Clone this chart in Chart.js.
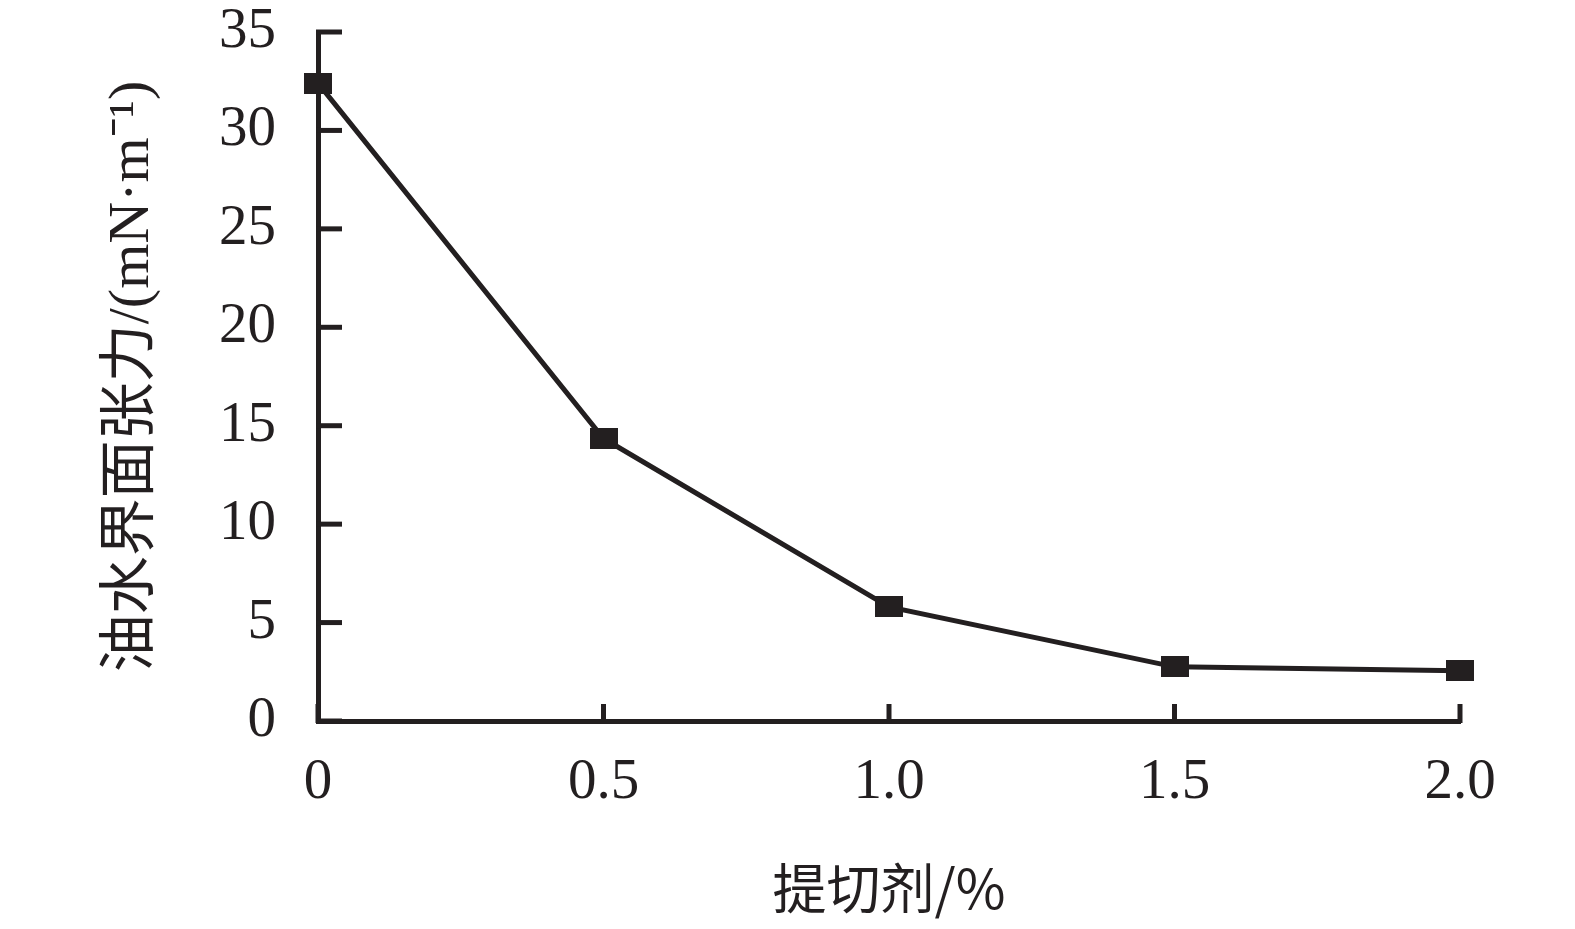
<!DOCTYPE html>
<html>
<head>
<meta charset="utf-8">
<script src="https://cdn.jsdelivr.net/npm/chart.js@4/dist/chart.umd.min.js"></script>
<style>
html,body{margin:0;padding:0;background:#fff;}
canvas{display:block;}
</style>
</head>
<body>
<canvas id="c" width="1575" height="929"></canvas>
<script>
const xValues = [0, 0.5, 1.0, 1.5, 2.0];
const tensionValues = [32.4, 14.35, 5.8, 2.75, 2.55];
const xTickLabels = ["0", "0.5", "1.0", "1.5", "2.0"];
const yTickValues = [0, 5, 10, 15, 20, 25, 30, 35];
const xTitle = "提切剂/%";
const yTitle = "油水界面张力/(mN·m⁻¹)";

const INK = '#231f20';
const marker = document.createElement('canvas');
marker.width = 28; marker.height = 21;
const mctx = marker.getContext('2d');
mctx.fillStyle = INK; mctx.fillRect(0, 0, 28, 21);

const inwardTicks = {
  id: 'inwardTicks',
  beforeDatasetsDraw(chart) {
    const ctx = chart.ctx;
    const xs = chart.scales.x, ys = chart.scales.y;
    const y0 = ys.getPixelForValue(0), x0 = xs.getPixelForValue(0);
    ctx.save();
    ctx.strokeStyle = INK;
    ctx.lineWidth = 5;
    ctx.lineCap = 'butt';
    xs.ticks.forEach(t => {
      const px = xs.getPixelForValue(t.value);
      ctx.beginPath(); ctx.moveTo(px, y0 + 2); ctx.lineTo(px, y0 - 17); ctx.stroke();
    });
    ys.ticks.forEach(t => {
      const py = ys.getPixelForValue(t.value);
      ctx.beginPath(); ctx.moveTo(x0 - 2, py); ctx.lineTo(x0 + 24, py); ctx.stroke();
    });
    ctx.restore();
  }
};

new Chart(document.getElementById('c'), {
  type: 'line',
  data: {
    datasets: [{
      data: xValues.map((x, i) => ({x: x, y: tensionValues[i]})),
      borderColor: INK,
      backgroundColor: INK,
      borderWidth: 5,
      tension: 0,
      pointStyle: marker,
      pointRadius: 14,
      clip: false
    }]
  },
  options: {
    responsive: false,
    animation: false,
    layout: {padding: {left: 0, right: 115, top: 32, bottom: 0}},
    plugins: {legend: {display: false}, tooltip: {enabled: false}},
    scales: {
      x: {
        type: 'linear', min: 0, max: 2,
        afterBuildTicks(s) { s.ticks = xValues.map(v => ({value: v})); },
        afterFit(s) { s.height = 208; s.paddingLeft = 0; s.paddingRight = 0; },
        grid: {display: false, drawTicks: false},
        border: {display: true, color: INK, width: 5},
        ticks: {
          padding: 28, color: INK,
          font: {family: '"Liberation Serif", "Times New Roman", serif', size: 57},
          callback(v, i) { return xTickLabels[i]; }
        },
        title: {
          display: true, text: xTitle, color: INK,
          font: {family: '"Noto Sans CJK SC", "Liberation Serif", serif', size: 54},
          padding: {top: 0, bottom: 8}
        }
      },
      y: {
        type: 'linear', min: 0, max: 35,
        afterBuildTicks(s) { s.ticks = yTickValues.map(v => ({value: v})); },
        afterFit(s) { s.width = 318; s.paddingTop = 0; s.paddingBottom = 0; },
        grid: {display: false, drawTicks: false},
        border: {display: true, color: INK, width: 5},
        ticks: {
          padding: 42, color: INK,
          font: {family: '"Liberation Serif", "Times New Roman", serif', size: 57},
          callback(v) { return String(v); }
        },
        title: {
          display: true, text: yTitle, color: INK,
          font: {family: '"Liberation Serif", "Noto Sans CJK SC", serif', size: 58},
          padding: {top: 98, bottom: 0}
        }
      }
    }
  },
  plugins: [inwardTicks]
});
</script>
</body>
</html>
